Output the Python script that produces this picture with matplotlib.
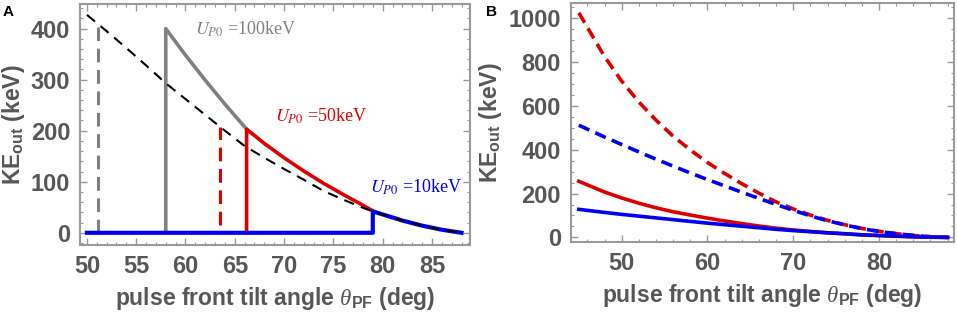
import matplotlib
matplotlib.use("Agg")
import matplotlib.pyplot as plt
from matplotlib.ticker import MultipleLocator

plt.rcParams['font.family'] = ['Liberation Sans', 'DejaVu Sans']
plt.rcParams['mathtext.fontset'] = 'custom'
plt.rcParams['mathtext.rm'] = 'Liberation Sans:bold'
plt.rcParams['mathtext.it'] = 'Liberation Serif:italic'
plt.rcParams['mathtext.bf'] = 'Liberation Sans:bold'

# ---------------- Panel A data ----------------
a_env_x = [50, 52, 54, 56, 58, 60, 62, 64, 66, 68, 70, 72, 74, 76, 78, 79, 80, 82, 84, 86, 88]
a_env_y = [427, 395, 362, 328, 293, 262, 231, 200, 170, 147, 125, 104, 82, 65, 49, 42, 36, 24, 14, 6, 0]

a_gray_x = [58, 58, 60, 62, 64, 66.2]
a_gray_y = [0, 400, 348, 299, 252, 203]

a_red_x = [66.2, 66.2, 68, 70, 72, 74, 76, 78, 79]
a_red_y = [0, 203, 175, 147, 121, 97, 75, 54, 43]

a_blue_x = [50, 79, 79, 80, 82, 84, 86, 88]
a_blue_y = [0, 0, 42, 36, 24, 14, 6, 0]

a_gray_dash_x = [51.1, 51.1]
a_gray_dash_y = [0, 404]
a_red_dash_x = [63.5, 63.5]
a_red_dash_y = [15, 208]

a_labels = [r'$U_{P0}$ =100keV', r'$U_{P0}$ =50keV', r'$U_{P0}$ =10keV']

# ---------------- Panel B data ----------------
b_x = [45, 48, 50, 52, 54, 56, 58, 60, 62, 64, 66, 68, 70, 72, 74, 76, 78, 80, 82, 84, 86, 88]
b_red_dash = [1025, 825, 713, 618, 535, 462, 399, 342, 292, 245, 202, 162, 130, 102, 78, 58, 41, 28, 17, 9, 3, 0]
b_blue_dash = [512, 458, 424, 390, 357, 325, 294, 264, 235, 206, 178, 150, 124, 98, 76, 57, 40, 27, 17, 9, 3, 0]
b_red = [256, 207, 180, 156, 135, 117, 102, 88, 75, 63, 52, 42, 34, 27, 21, 16, 11, 8, 5, 3, 1, 0]
b_blue = [128, 114, 105, 97, 89, 81, 73, 65, 58, 51, 44, 37, 31, 26, 21, 17, 12, 9, 6, 3, 1, 0]

GRAY = '#808080'
RED = '#dd0000'
BLUE = '#0000ee'
TXT = '#575757'
FRAME = '#9a9a9a'

fig = plt.figure(figsize=(9.57, 3.17), dpi=100)
axA = fig.add_axes([0.0836, 0.227, 0.491 - 0.0836, 0.987 - 0.227])
axB = fig.add_axes([0.5963, 0.2366, 0.9969 - 0.5963, 0.9915 - 0.2366])


def style(ax):
    for s in ax.spines.values():
        s.set_color(FRAME)
        s.set_linewidth(1.5)
    ax.tick_params(which='both', direction='in', top=True, right=True, color=FRAME)
    ax.tick_params(which='major', length=5, width=1.0, labelsize=17, labelcolor=TXT, pad=7)
    ax.tick_params(which='minor', length=2.5, width=0.8)
    for lab in ax.get_xticklabels() + ax.get_yticklabels():
        lab.set_fontweight('bold')


# Panel A
axA.plot(a_env_x, a_env_y, color='black', lw=1.5, dashes=(5, 3.5), zorder=5)
axA.plot(a_gray_dash_x, a_gray_dash_y, color=GRAY, lw=2.2, dashes=(4.5, 2.5))
axA.plot(a_red_dash_x, a_red_dash_y, color=RED, lw=2.2, dashes=(4.5, 2.5))
axA.plot(a_gray_x, a_gray_y, color=GRAY, lw=2.6)
axA.plot(a_red_x, a_red_y, color=RED, lw=2.6)
axA.plot(a_blue_x, a_blue_y, color=BLUE, lw=3.0, zorder=4)
axA.set_xlim(49.3, 88.85)
axA.set_ylim(-24, 448)
axA.xaxis.set_major_locator(MultipleLocator(5))
axA.xaxis.set_minor_locator(MultipleLocator(1))
axA.yaxis.set_major_locator(MultipleLocator(100))
axA.yaxis.set_minor_locator(MultipleLocator(20))
style(axA)
ann_kw = dict(fontsize=13, math_fontfamily='stix', family='Liberation Serif', va='baseline')
axA.text(61.0, 388, a_labels[0], color=GRAY, **ann_kw)
axA.text(69.1, 217, a_labels[1], color=RED, **ann_kw)
axA.text(78.7, 78, a_labels[2], color=BLUE, **ann_kw)

# Panel B
axB.plot(b_x, b_red_dash, color=RED, lw=2.6, dashes=(3.2, 1.8))
axB.plot(b_x, b_blue_dash, color=BLUE, lw=2.6, dashes=(3.2, 1.8))
axB.plot(b_x, b_red, color=RED, lw=2.6)
axB.plot(b_x, b_blue, color=BLUE, lw=2.6)
axB.set_xlim(44.05, 88.75)
axB.set_ylim(-21, 1071)
axB.xaxis.set_major_locator(MultipleLocator(10))
axB.xaxis.set_minor_locator(MultipleLocator(2))
axB.yaxis.set_major_locator(MultipleLocator(200))
axB.yaxis.set_minor_locator(MultipleLocator(50))
style(axB)

xlab = r'pulse front tilt angle $\it{\theta}_{\mathbf{PF}}$ (deg)'
ylab = r'KE$_{\mathbf{out}}$ (keV)'
for ax in (axA, axB):
    ax.set_xlabel(xlab, fontsize=16.5, fontweight='bold', color=TXT, labelpad=5)
    ax.set_ylabel(ylab, fontsize=16.5, fontweight='bold', color=TXT, labelpad=3)

fig.text(0.003, 0.985, 'A', fontsize=11, fontweight='bold', va='top', ha='left')
fig.text(0.508, 0.985, 'B', fontsize=11, fontweight='bold', va='top', ha='left')

fig.savefig('out.png', dpi=100)
